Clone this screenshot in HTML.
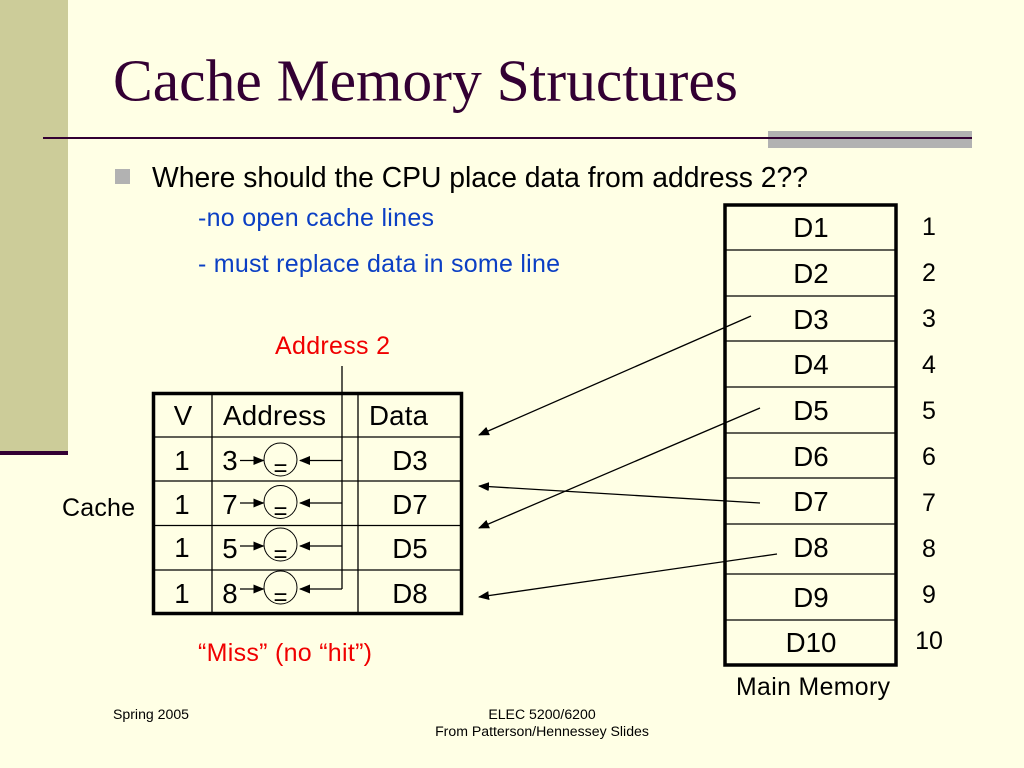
<!DOCTYPE html>
<html><head><meta charset="utf-8"><style>
html,body{margin:0;padding:0;background:#ffffe5}
svg{display:block}
text{font-family:"Liberation Sans",sans-serif;fill:#000}
.c{text-anchor:middle}
.s{font-size:27.700px}
.n{font-size:25px;text-anchor:middle}
.e{font-size:24px;text-anchor:middle}
.b{fill:#0b3fc4;font-size:25px}
.r{fill:#f00000;font-size:25px}
.f{font-size:14.100px}
</style></head><body>
<svg width="1024" height="768" viewBox="0 0 1024 768" xmlns="http://www.w3.org/2000/svg">
<defs><marker id="a" markerWidth="11" markerHeight="9" refX="10" refY="4.500" orient="auto" markerUnits="userSpaceOnUse"><path d="M0,0 L11,4.500 L0,9 Z" fill="#000"/></marker></defs>
<rect width="1024" height="768" fill="#ffffe5"/>
<rect x="0" y="0" width="68" height="455" fill="#cccc99"/>
<rect x="0" y="451" width="68" height="4" fill="#330033"/>
<rect x="768" y="131" width="204" height="17" fill="#b2b2b2"/>
<rect x="43" y="137" width="929" height="2" fill="#330033"/>
<text x="113" y="100.500" style="font-family:'Liberation Serif',serif;font-size:59.600px;fill:#330033" textLength="625">Cache Memory Structures</text>
<rect x="115" y="169" width="15" height="15" fill="#b2b2b2"/>
<text x="152" y="187" style="font-size:28.300px" textLength="656">Where should the CPU place data from address 2??</text>
<text x="198" y="226" class="b" textLength="236">-no open cache lines</text>
<text x="198" y="272" class="b" textLength="362">- must replace data in some line</text>
<text x="275" y="354" class="r" textLength="115">Address 2</text>
<text x="198" y="661" class="r" textLength="174">“Miss” (no “hit”)</text>
<text x="62" y="516" style="font-size:25px" textLength="73">Cache</text>

<g stroke="#000" stroke-width="1.300" fill="none">
<path d="M212,392V614M358,392V614M152,437H462M152,481H462M152,525.500H462M152,570H462"/>
<path d="M342,366V589"/>
<path d="M240,460.500H263.500" marker-end="url(#a)"/><path d="M240,503H263.500" marker-end="url(#a)"/><path d="M240,546H263.500" marker-end="url(#a)"/><path d="M240,589H263.500" marker-end="url(#a)"/>
<path d="M342,460.500H300" marker-end="url(#a)"/><path d="M342,503H300" marker-end="url(#a)"/><path d="M342,546H300" marker-end="url(#a)"/><path d="M342,589H300" marker-end="url(#a)"/>
<circle cx="280.500" cy="459.500" r="16.500" stroke-width="1"/><circle cx="280.500" cy="502" r="16.500" stroke-width="1"/><circle cx="280.500" cy="544.500" r="16.500" stroke-width="1"/><circle cx="280.500" cy="587.500" r="16.500" stroke-width="1"/>
<path d="M725,250H896M725,296H896M725,341H896M725,387H896M725,433H896M725,478H896M725,524H896M725,574H896M725,620H896"/>
</g>
<rect x="153.500" y="393.500" width="308" height="220" fill="none" stroke="#000" stroke-width="3.500"/>
<rect x="725" y="205" width="171" height="460" fill="none" stroke="#000" stroke-width="3.500"/>

<text x="183" y="425" class="c s">V</text><text x="223" y="425" class="s" textLength="103">Address</text><text x="369" y="425" class="s" textLength="59">Data</text>
<text x="182" y="470" class="c s">1</text><text x="182" y="514" class="c s">1</text><text x="182" y="557" class="c s">1</text><text x="182" y="603" class="c s">1</text>
<text x="230" y="470" class="c s">3</text><text x="230" y="514" class="c s">7</text><text x="230" y="558" class="c s">5</text><text x="230" y="603" class="c s">8</text>
<text x="410" y="470" class="c s">D3</text><text x="410" y="514" class="c s">D7</text><text x="410" y="558" class="c s">D5</text><text x="410" y="603" class="c s">D8</text>
<text x="280.500" y="476" class="e">=</text><text x="280.500" y="519" class="e">=</text><text x="280.500" y="562" class="e">=</text><text x="280.500" y="605" class="e">=</text>
<text x="811" y="237" class="c s">D1</text><text x="811" y="283" class="c s">D2</text><text x="811" y="329" class="c s">D3</text><text x="811" y="374" class="c s">D4</text><text x="811" y="420" class="c s">D5</text><text x="811" y="466" class="c s">D6</text><text x="811" y="511" class="c s">D7</text><text x="811" y="557" class="c s">D8</text><text x="811" y="607" class="c s">D9</text><text x="811" y="652" class="c s">D10</text>

<text x="929" y="235" class="n">1</text><text x="929" y="281" class="n">2</text><text x="929" y="327" class="n">3</text><text x="929" y="373" class="n">4</text><text x="929" y="419" class="n">5</text><text x="929" y="465" class="n">6</text><text x="929" y="511" class="n">7</text><text x="929" y="557" class="n">8</text><text x="929" y="603" class="n">9</text><text x="929" y="649" class="n">10</text>
<text x="736" y="695" style="font-size:24.800px" textLength="154">Main Memory</text>

<g stroke="#000" stroke-width="1.300" fill="none">
<path d="M751,316L479,435" marker-end="url(#a)"/>
<path d="M760,408L479,528" marker-end="url(#a)"/>
<path d="M760,503L479,486" marker-end="url(#a)"/>
<path d="M777,554L479,597" marker-end="url(#a)"/>
</g>
<text x="113" y="719" class="f">Spring 2005</text>
<text x="542" y="719" class="f c">ELEC 5200/6200</text>
<text x="542" y="736" class="f c">From Patterson/Hennessey Slides</text>
</svg>
</body></html>
